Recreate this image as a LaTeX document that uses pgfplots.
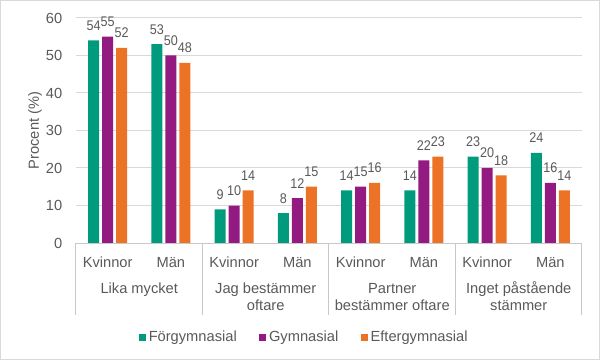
\documentclass[border=0pt]{standalone}
\usepackage{pgfplots}
\pgfplotsset{compat=1.18}
\usepackage{fontspec}
\setmainfont{Liberation Sans}
\newfontfamily\lblfont[FakeStretch=0.9]{Liberation Sans}
\definecolor{cteal}{RGB}{0,155,125}
\definecolor{cpurp}{RGB}{146,26,128}
\definecolor{corg}{RGB}{236,114,38}
\definecolor{txt}{RGB}{89,89,89}
\definecolor{gridc}{RGB}{217,217,217}
\definecolor{axl}{RGB}{200,200,200}
\newcommand{\tf}{\fontsize{11}{13}\selectfont}
\begin{document}
\begin{tikzpicture}
\begin{axis}[name=ax, at={(0,0)}, anchor=south west, scale only axis,
  width=379.5pt, height=168.75pt,
  xmin=-0.5, xmax=7.5, ymin=0, ymax=60,
  ytick={0,10,...,60},
  xtick={0,...,7},
  xticklabels={Kvinnor,Män,Kvinnor,Män,Kvinnor,Män,Kvinnor,Män},
  ybar, bar width=0.174,
  ymajorgrids, grid style={gridc, line width=0.75pt},
  major tick length=0pt,
  axis line style={draw=none},
  tick label style={font=\tf, text=txt},
  xticklabel style={anchor=base, yshift=-18pt},
  yticklabel style={xshift=-6.8pt},
  /pgf/number format/assume math mode=true,
  ylabel={Procent (\%)},
  ylabel style={font=\tf, text=txt, at={(axis description cs:-0.081,0.5)}, anchor=center},
  nodes near coords,
  nodes near coords style={font=\lblfont\fontsize{10.5}{12}\selectfont, text=txt, anchor=base, inner sep=0pt, yshift=7.5pt},
  legend columns=3,
  legend style={draw=none, fill=none, font=\tf, text=txt,
    at={(axis description cs:0.452,-0.418)}, anchor=center,
    /tikz/every even column/.append style={column sep=15pt}},
  legend image code/.code={\fill[#1] (0pt,-2.6pt) rectangle (5.2pt,2.6pt);},
  clip=false,
]
\addplot[fill=cteal, draw=none, bar shift=-0.221] coordinates {(0,54) (1,53) (2,9) (3,8) (4,14) (5,14) (6,23) (7,24)};
\addlegendentry{Förgymnasial}
\addplot[fill=cpurp, draw=none, bar shift=0] coordinates {(0,55) (1,50) (2,10) (3,12) (4,15) (5,22) (6,20) (7,16)};
\addlegendentry{Gymnasial}
\addplot[fill=corg, draw=none, bar shift=0.221] coordinates {(0,52) (1,48) (2,14) (3,15) (4,16) (5,23) (6,18) (7,14)};
\addlegendentry{Eftergymnasial}

\draw[axl, line width=0.75pt] (axis cs:-0.5,0) -- (axis cs:7.5,0);
\draw[axl, line width=0.75pt] (axis cs:-0.5,0) -- ++(0pt,-54pt);
\draw[axl, line width=0.75pt] (axis cs:1.5,0) -- ++(0pt,-54pt);
\draw[axl, line width=0.75pt] (axis cs:3.5,0) -- ++(0pt,-54pt);
\draw[axl, line width=0.75pt] (axis cs:5.5,0) -- ++(0pt,-54pt);
\draw[axl, line width=0.75pt] (axis cs:7.5,0) -- ++(0pt,-54pt);

\node[anchor=base, font=\tf, text=txt] at ([yshift=-37.5pt]axis cs:0.5,0) {Lika mycket};
\node[anchor=base, font=\tf, text=txt] at ([yshift=-37.5pt]axis cs:2.5,0) {Jag bestämmer};
\node[anchor=base, font=\tf, text=txt] at ([yshift=-50.25pt]axis cs:2.5,0) {oftare};
\node[anchor=base, font=\tf, text=txt] at ([yshift=-37.5pt]axis cs:4.5,0) {Partner};
\node[anchor=base, font=\tf, text=txt] at ([yshift=-50.25pt]axis cs:4.5,0) {bestämmer oftare};
\node[anchor=base, font=\tf, text=txt] at ([yshift=-37.5pt]axis cs:6.5,0) {Inget påstående};
\node[anchor=base, font=\tf, text=txt] at ([yshift=-50.25pt]axis cs:6.5,0) {stämmer};
\end{axis}
\draw[gridc, line width=0.75pt] (-56.625pt,-87.375pt) rectangle (392.625pt,181.875pt);
\pgfresetboundingbox
\path (-57pt,-87.75pt) rectangle (393pt,182.25pt);
\end{tikzpicture}
\end{document}
